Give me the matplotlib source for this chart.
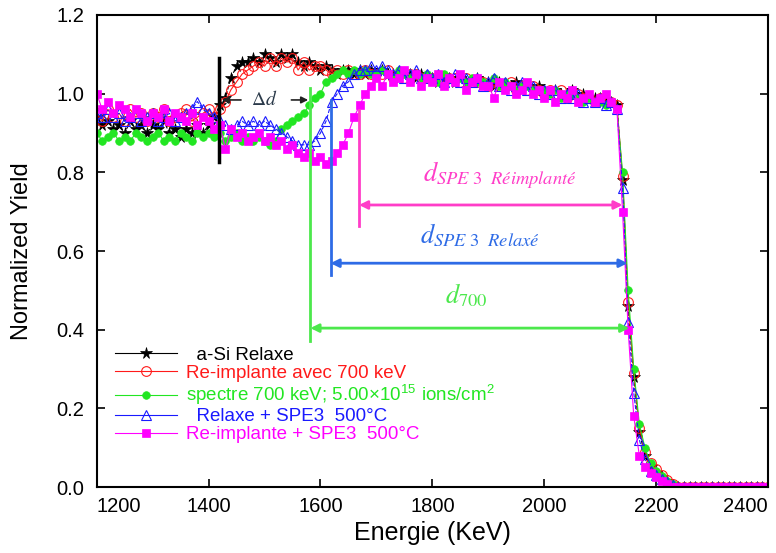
import numpy as np
import matplotlib
matplotlib.use('Agg')
import matplotlib.pyplot as plt
from matplotlib.lines import Line2D

plt.rcParams['font.family'] = 'Liberation Sans'
plt.rcParams['mathtext.fontset'] = 'stix'

# detector channels, 10 keV apart
energy = np.arange(1200, 2401, 10)

edge_zeros = [0.0] * 17

asi_relaxe = [
    0.94, 0.92, 0.93, 0.91, 0.92, 0.90, 0.93, 0.91, 0.92, 0.90,
    0.92, 0.91, 0.93, 0.90, 0.91, 0.89, 0.91, 0.90, 0.92, 0.90,
    0.92, 0.94, 0.97, 0.99, 1.04, 1.07, 1.08, 1.08, 1.09, 1.08,
    1.10, 1.09, 1.08, 1.10, 1.09, 1.10, 1.08, 1.07, 1.08, 1.07,
    1.06, 1.07, 1.06, 1.05, 1.06, 1.06, 1.05, 1.06, 1.05, 1.06,
    1.05, 1.06, 1.05, 1.05, 1.04, 1.05, 1.05, 1.04, 1.05, 1.04,
    1.04, 1.03, 1.04, 1.04, 1.03, 1.04, 1.03, 1.03, 1.04, 1.03,
    1.03, 1.02, 1.03, 1.02, 1.02, 1.03, 1.01, 1.02, 1.01, 1.02,
    1.01, 1.00, 1.01, 1.00, 1.00, 1.01, 0.99, 1.00, 0.99, 0.99,
    0.99, 0.98, 0.98, 0.97,
    0.78, 0.46, 0.28, 0.14, 0.08, 0.05, 0.035, 0.025, 0.015, 0.006,
] + edge_zeros

reimplante_700 = [
    0.95, 0.93, 0.96, 0.94, 0.95, 0.93, 0.96, 0.94, 0.95, 0.93,
    0.95, 0.94, 0.96, 0.93, 0.94, 0.95, 0.96, 0.93, 0.94, 0.95,
    0.96, 0.94, 0.96, 0.98, 1.01, 1.03, 1.05, 1.06, 1.07, 1.08,
    1.07, 1.09, 1.07, 1.09, 1.08, 1.09, 1.06, 1.08, 1.06, 1.07,
    1.07, 1.06, 1.05, 1.06, 1.05, 1.06, 1.05, 1.05, 1.06, 1.05,
    1.05, 1.05, 1.06, 1.04, 1.05, 1.04, 1.05, 1.05, 1.04, 1.04,
    1.04, 1.04, 1.03, 1.04, 1.04, 1.03, 1.04, 1.03, 1.03, 1.03,
    1.02, 1.03, 1.02, 1.02, 1.03, 1.01, 1.02, 1.01, 1.02, 1.01,
    1.00, 1.01, 1.00, 1.01, 0.99, 1.00, 1.00, 0.99, 0.99, 0.98,
    0.99, 0.98, 0.98, 0.97,
    0.79, 0.47, 0.29, 0.15, 0.09, 0.06, 0.045, 0.03, 0.018, 0.008,
] + edge_zeros

spectre_700 = [
    0.90, 0.88, 0.89, 0.90, 0.88, 0.89, 0.88, 0.90, 0.89, 0.88,
    0.89, 0.90, 0.88, 0.89, 0.88, 0.90, 0.89, 0.88, 0.90, 0.89,
    0.90, 0.89, 0.90, 0.88, 0.89, 0.90, 0.88, 0.89, 0.88, 0.89,
    0.88, 0.87, 0.88, 0.91, 0.92, 0.93, 0.94, 0.95, 0.97, 0.99,
    1.00, 1.03, 1.04, 1.05, 1.06, 1.05, 1.06, 1.05, 1.06, 1.05,
    1.05, 1.06, 1.05, 1.04, 1.06, 1.05, 1.04, 1.05, 1.04, 1.05,
    1.04, 1.03, 1.05, 1.04, 1.03, 1.04, 1.03, 1.04, 1.03, 1.03,
    1.02, 1.04, 1.02, 1.03, 1.02, 1.01, 1.02, 1.02, 1.01, 1.01,
    1.01, 1.00, 1.01, 0.99, 1.00, 1.00, 0.99, 0.98, 0.99, 0.98,
    0.98, 0.97, 0.98, 0.96,
    0.80, 0.50, 0.30, 0.16, 0.10, 0.06, 0.04, 0.028, 0.016, 0.007,
] + edge_zeros

relaxe_spe3 = [
    0.95, 0.94, 0.96, 0.94, 0.95, 0.93, 0.94, 0.95, 0.93, 0.94,
    0.95, 0.93, 0.94, 0.95, 0.93, 0.94, 0.95, 0.96, 0.98, 0.96,
    0.95, 0.94, 0.93, 0.92, 0.91, 0.92, 0.93, 0.92, 0.93, 0.92,
    0.93, 0.92, 0.91, 0.90, 0.89, 0.88, 0.87, 0.87, 0.87, 0.88,
    0.90, 0.93, 0.98, 1.00, 1.02, 1.03, 1.05, 1.06, 1.06, 1.07,
    1.06, 1.07, 1.06, 1.05, 1.06, 1.04, 1.05, 1.06, 1.04, 1.05,
    1.04, 1.05, 1.03, 1.04, 1.05, 1.03, 1.04, 1.03, 1.04, 1.02,
    1.03, 1.04, 1.02, 1.03, 1.01, 1.02, 1.03, 1.01, 1.02, 1.00,
    1.01, 1.00, 1.01, 0.99, 1.00, 0.99, 1.00, 0.98, 0.99, 0.98,
    0.99, 0.97, 0.98, 0.96,
    0.76, 0.42, 0.24, 0.12, 0.07, 0.04, 0.03, 0.02, 0.012, 0.004,
] + edge_zeros

reimplante_spe3 = [
    1.00, 0.96, 0.98, 0.95, 0.97, 0.96, 0.94, 0.96, 0.95, 0.93,
    0.95, 0.94, 0.96, 0.93, 0.95, 0.94, 0.93, 0.95, 0.92, 0.94,
    0.93, 0.91, 0.92, 0.86, 0.91, 0.89, 0.90, 0.88, 0.89, 0.90,
    0.88, 0.89, 0.87, 0.88, 0.86, 0.87, 0.85, 0.84, 0.85, 0.83,
    0.84, 0.82, 0.83, 0.85, 0.87, 0.90, 0.94, 0.97, 1.00, 1.02,
    1.04, 1.02, 1.05, 1.03, 1.04, 1.06, 1.03, 1.05, 1.02, 1.04,
    1.03, 1.05, 1.02, 1.04, 1.03, 1.05, 1.01, 1.03, 1.04, 1.02,
    1.02, 0.99, 1.03, 1.01, 1.02, 1.00, 1.01, 1.03, 1.00, 1.01,
    0.99, 1.01, 0.98, 1.00, 0.99, 1.01, 0.98, 0.99, 1.00, 0.98,
    0.99, 1.00, 0.98, 0.96,
    0.70, 0.40, 0.18, 0.08, 0.05, 0.035, 0.025, 0.015, 0.008, 0.0,
] + edge_zeros

labels = [
    '  a-Si Relaxe',
    'Re-implante avec 700 keV',
    r'spectre 700 keV; 5.00×10$^{\mathregular{15}}$ ions/cm$^{\mathregular{2}}$',
    '  Relaxe + SPE3  500°C',
    'Re-implante + SPE3  500°C',
]

# depth markers (keV) and annotation colours
delta_d_start = 1418
d700_start = 1582
d_relaxe_start = 1618
d_reimpl_start = 1669
pink = '#ff3dc8'
azure = '#2e6be6'
lime = '#4ce84c'

fig, ax = plt.subplots(figsize=(7.76, 5.53), dpi=100)
fig.subplots_adjust(left=0.1246, right=0.9897, bottom=0.1193, top=0.9729)

styles = [
    dict(color='black', ls='--', marker='*', ms=8.5, mfc='black', mec='black', mew=0.5),
    dict(color='#ff1a1a', ls='-', marker='o', ms=7, mfc='none', mec='#ff1a1a', mew=0.8),
    dict(color='#22e622', ls='-', marker='o', ms=5.5, mfc='#22e622', mec='#22e622', mew=0.5),
    dict(color='#1a1aff', ls='--', marker='^', ms=7, mfc='none', mec='#1a1aff', mew=0.8),
    dict(color='#ff00ff', ls='-', marker='s', ms=6, mfc='#ff00ff', mec='#ff00ff', mew=0.5),
]
series = [asi_relaxe, reimplante_700, spectre_700, relaxe_spe3, reimplante_spe3]

for ys, st in zip(series, styles):
    ax.plot(energy, ys, lw=0.8, **st)

# vertical depth markers
ax.plot([delta_d_start, delta_d_start], [0.826, 1.091], color='black', lw=2.5)
ax.plot([d700_start, d700_start], [0.372, 1.015], color=lime, lw=2)
ax.plot([d_relaxe_start, d_relaxe_start], [0.54, 0.984], color=azure, lw=2)
ax.plot([d_reimpl_start, d_reimpl_start], [0.664, 0.959], color=pink, lw=2)

arrow = dict(arrowstyle='<|-|>', lw=2, mutation_scale=12, shrinkA=0, shrinkB=0)
ax.annotate('', xy=(2140, 0.717), xytext=(d_reimpl_start, 0.717),
            arrowprops=dict(color=pink, **arrow))
ax.annotate('', xy=(2149, 0.569), xytext=(d_relaxe_start, 0.569),
            arrowprops=dict(color=azure, **arrow))
ax.annotate('', xy=(2152, 0.404), xytext=(d700_start, 0.404),
            arrowprops=dict(color=lime, **arrow))

ax.text(1921, 0.793, r'$d_{SPE\ \mathrm{3}\ \ Réimplanté}$', color=pink,
        fontsize=19, ha='center', va='center')
ax.text(1885, 0.64, r'$d_{SPE\ \mathrm{3}\ \ Relaxé}$', color=azure,
        fontsize=19, ha='center', va='center')
ax.text(1861, 0.488, r'$d_{\mathrm{700}}$', color=lime,
        fontsize=19, ha='center', va='center')

# delta d
ax.text(1500, 0.984, r'$\Delta d$', color='#2b3a4a', fontsize=14,
        ha='center', va='center')
small = dict(arrowstyle='-|>', lw=1.2, color='#222222', mutation_scale=10,
             shrinkA=0, shrinkB=0)
ax.annotate('', xy=(1424, 0.984), xytext=(1458, 0.984), arrowprops=small)
ax.annotate('', xy=(1578, 0.984), xytext=(1548, 0.984), arrowprops=small)

handles = [Line2D([], [], lw=0.8, **dict(st, ls='-')) for st in styles]
text_colors = ['black', '#ff1a1a', '#22e622', '#1a1aff', '#ff00ff']
ax.legend(handles, labels, loc='upper left', bbox_to_anchor=(0.027, 0.297),
          frameon=False, fontsize=13.5, handlelength=3.3, handletextpad=0.5,
          labelspacing=0.05, borderaxespad=0, borderpad=0,
          labelcolor=text_colors)

ax.set_xlim(1200, 2400)
ax.set_ylim(0, 1.2)
ax.set_xticks([1200, 1400, 1600, 1800, 2000, 2200, 2400])
ax.set_yticks([0.0, 0.2, 0.4, 0.6, 0.8, 1.0, 1.2])
ax.set_yticklabels(['0.0', '0.2', '0.4', '0.6', '0.8', '1.0', '1.2'])
ax.tick_params(direction='in', top=True, right=True, length=6, width=1.2,
               labelsize=14.5)
ax.tick_params(axis='y', pad=9)
ax.tick_params(axis='x', pad=7)
xl = ax.get_xticklabels()
xl[0].set_horizontalalignment('left')
xl[-1].set_horizontalalignment('right')
for sp in ax.spines.values():
    sp.set_linewidth(1.5)

ax.set_xlabel('Energie (KeV)', fontsize=18)
ax.set_ylabel('Normalized Yield', fontsize=17)
ax.yaxis.set_label_coords(-0.095, 0.5)

fig.savefig('out.png', dpi=100)
